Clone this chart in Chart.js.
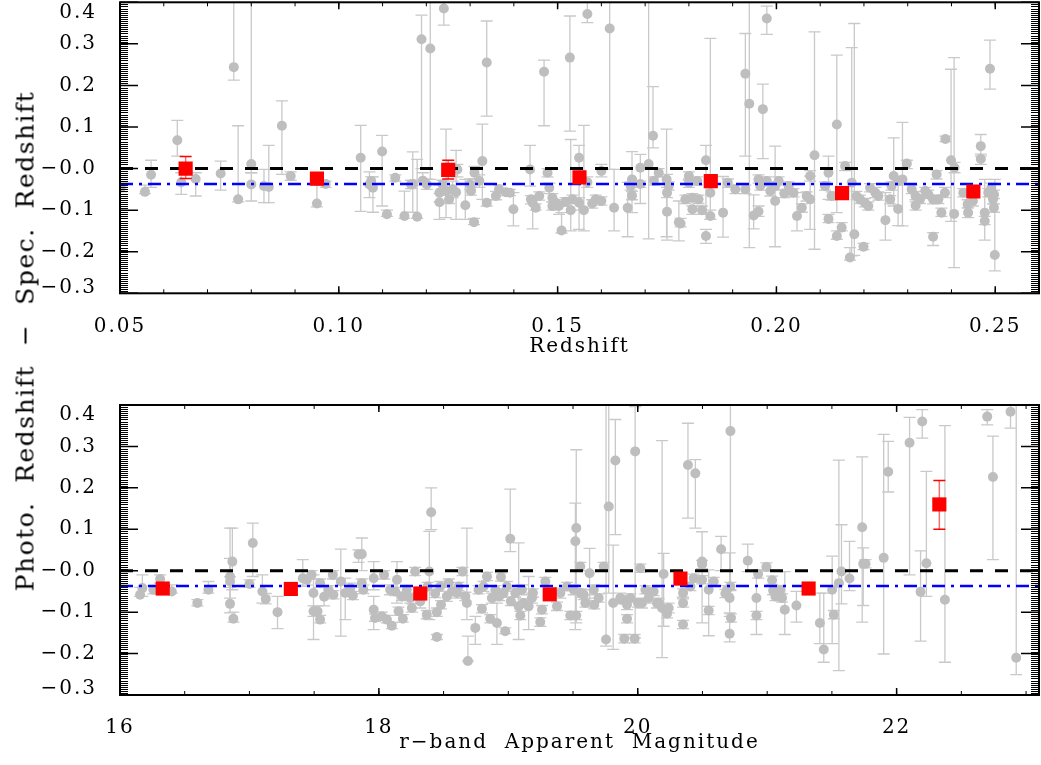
<!DOCTYPE html>
<html>
<head>
<meta charset="utf-8">
<script src="https://cdn.jsdelivr.net/npm/chart.js@4.4.1/dist/chart.umd.min.js"></script>
<style>
html,body{margin:0;padding:0;background:#fff;width:1041px;height:765px;overflow:hidden;}
#w1{position:absolute;left:0;top:0;width:1041px;height:380px;}
#w2{position:absolute;left:0;top:380px;width:1041px;height:385px;}
#ytitle{position:absolute;left:25px;top:341px;transform:translate(-50%,-50%) rotate(-90deg);
  font-family:'DejaVu Serif',serif;font-size:25px;letter-spacing:1.5px;white-space:pre;color:#000;}
</style>
</head>
<body>
<div id="w1"><canvas id="c1" width="1041" height="380" style="width:1041px;height:380px"></canvas></div>
<div id="w2"><canvas id="c2" width="1041" height="385" style="width:1041px;height:385px"></canvas></div>
<div id="ytitle">Photo.  Redshift  −  Spec.  Redshift</div>
<script>
// ================= DATA =================
// ---- top panel: individual galaxies vs redshift ----
const topX = [
 0.0502,0.0557,0.0571,0.0631,0.0640,0.0673,0.0730,0.0760,0.0770,0.0800,
 0.0800,0.0829,0.0840,0.0870,0.0890,0.0950,0.0970,0.1050,0.1070,0.1078,
 0.1099,0.1110,0.1129,0.1150,0.1169,0.1179,0.1189,0.1192,0.1201,0.1209,
 0.1230,0.1230,0.1240,0.1245,0.1260,0.1268,0.1271,0.1289,0.1300,0.1309,
 0.1310,0.1321,0.1328,0.1338,0.1338,0.1359,0.1382,0.1391,0.1399,0.1437,
 0.1439,0.1443,0.1450,0.1469,0.1477,0.1481,0.1488,0.1496,0.1503,0.1509,
 0.1518,0.1528,0.1530,0.1549,0.1549,0.1560,0.1568,0.1568,0.1579,0.1600,
 0.1600,0.1619,0.1629,0.1660,0.1670,0.1670,0.1689,0.1689,0.1708,0.1718,
 0.1720,0.1731,0.1749,0.1750,0.1750,0.1777,0.1800,0.1808,0.1808,0.1781,
 0.1830,0.1839,0.1839,0.1849,0.1849,0.1878,0.1889,0.1906,0.1929,0.1929,
 0.1938,0.1948,0.1959,0.1969,0.1959,0.1978,0.1978,0.1997,0.1997,0.2018,
 0.2039,0.2047,0.2058,0.2077,0.2077,0.2087,0.2119,0.2119,0.2138,0.2138,
 0.2149,0.2157,0.2168,0.2172,0.2178,0.2183,0.2199,0.2202,0.2210,0.2226,
 0.2249,0.2260,0.2268,0.2278,0.2288,0.2298,0.2318,0.2318,0.2340,0.2358,
 0.2366,0.2358,0.2377,0.2385,0.2386,0.2399,0.2406,0.2407,0.2437,0.2449,
 0.2467,0.2467,0.2476,0.2476,0.2488,0.2491,0.2495,0.2497,0.2499,0.2497,
 0.1800,0.1819,0.1822,0.1963,0.1986,0.2005,0.2028,0.2069,0.2111,0.2126,
 0.2191,0.2214,0.2233,0.2263,0.2279,0.2309,0.2328,0.2347,0.2370,0.2427,
 0.2438,0.2484,0.1074,0.1165,0.1237,0.1252,0.1302,0.1366,0.1458,0.1488,
 0.1534,0.1587,0.1667,0.1754,0.1792
];
const topY = [
 -0.046,-0.056,-0.015,0.068,-0.033,-0.025,-0.012,0.244,-0.074,0.011,
 -0.038,-0.042,-0.044,0.103,-0.018,-0.084,-0.037,0.026,-0.038,-0.046,
 0.041,-0.110,-0.022,-0.114,-0.037,-0.116,0.311,-0.029,-0.038,0.289,
 -0.058,-0.081,0.385,-0.054,-0.050,-0.057,-0.002,-0.088,-0.038,-0.129,
 -0.010,-0.030,0.018,0.255,-0.082,-0.066,-0.057,-0.058,-0.098,-0.002,
 -0.074,-0.082,-0.094,0.233,-0.010,-0.046,-0.070,-0.082,-0.090,-0.149,
 -0.080,0.267,-0.100,0.026,-0.082,-0.100,0.372,-0.033,-0.084,-0.006,
 -0.078,0.337,-0.094,-0.094,-0.026,-0.065,0.002,-0.037,0.011,0.079,
 -0.029,-0.010,-0.026,-0.058,-0.104,-0.129,-0.034,-0.070,-0.098,-0.132,
 -0.100,-0.162,0.020,-0.058,-0.114,-0.106,-0.034,-0.050,0.228,-0.050,
 0.156,-0.113,-0.103,0.143,-0.026,0.361,-0.030,-0.078,-0.042,-0.060,
 -0.058,-0.114,-0.094,-0.074,-0.018,0.032,-0.121,-0.010,0.106,-0.162,
 -0.142,0.006,-0.214,-0.034,-0.158,-0.066,-0.188,-0.082,-0.090,-0.058,
 -0.124,-0.074,-0.018,-0.097,-0.026,0.012,-0.066,-0.089,-0.054,-0.164,
 -0.014,-0.074,-0.106,-0.058,0.071,0.020,-0.109,0.002,-0.086,-0.078,
 0.054,0.023,-0.106,-0.126,0.240,-0.046,-0.074,-0.094,-0.208,-0.062,
 -0.018,-0.030,-0.074,-0.042,-0.054,-0.030,-0.042,-0.066,-0.042,-0.066,
 -0.074,-0.046,-0.066,-0.042,-0.030,-0.050,-0.074,-0.062,-0.074,-0.058,
 -0.106,-0.058,-0.030,-0.038,-0.038,-0.074,-0.054,-0.050,-0.066,-0.090,
 -0.074,-0.074,-0.042,-0.042,-0.074
];
const topLo = [
 -0.056,-0.060,-0.045,0.030,-0.062,-0.066,-0.052,0.213,-0.080,-0.010,
 -0.078,-0.082,-0.082,-0.014,-0.028,-0.092,-0.045,-0.103,-0.070,-0.105,
 -0.090,-0.115,-0.030,-0.120,-0.105,-0.120,0.000,-0.040,-0.050,-0.026,
 -0.080,-0.122,0.345,-0.118,-0.070,-0.122,-0.020,-0.122,-0.050,-0.135,
 -0.025,-0.045,-0.074,0.126,-0.090,-0.075,-0.065,-0.065,-0.138,-0.042,
 -0.085,-0.145,-0.100,0.103,-0.020,-0.060,-0.080,-0.090,-0.110,-0.155,
 -0.090,0.090,-0.150,-0.146,-0.100,-0.150,0.351,-0.045,-0.095,-0.020,
 -0.088,-0.002,-0.150,-0.164,-0.106,-0.075,-0.084,-0.045,-0.169,0.050,
 -0.040,-0.020,-0.164,-0.070,-0.172,-0.174,-0.045,-0.080,-0.110,-0.140,
 -0.110,-0.180,-0.106,-0.122,-0.122,-0.165,-0.045,-0.060,0.030,-0.060,
 -0.190,-0.145,-0.115,0.024,-0.035,0.323,-0.040,-0.188,-0.052,-0.070,
 -0.068,-0.150,-0.105,-0.146,-0.030,-0.194,-0.130,-0.074,-0.106,-0.170,
 -0.150,-0.005,-0.220,-0.210,-0.209,-0.075,-0.195,-0.092,-0.100,-0.070,
 -0.172,-0.085,-0.090,-0.137,-0.138,0.000,-0.075,-0.100,-0.065,-0.185,
 -0.025,-0.085,-0.115,-0.070,0.065,-0.127,-0.238,-0.010,-0.095,-0.090,
 0.030,0.010,-0.172,-0.135,0.191,-0.060,-0.085,-0.105,-0.246,-0.072,
 -0.028,-0.040,-0.084,-0.052,-0.066,-0.040,-0.052,-0.078,-0.052,-0.076,
 -0.084,-0.056,-0.076,-0.052,-0.040,-0.060,-0.084,-0.072,-0.084,-0.068,
 -0.118,-0.068,-0.040,-0.048,-0.048,-0.084,-0.064,-0.060,-0.076,-0.100,
 -0.084,-0.084,-0.052,-0.052,-0.084
];
const topHi = [
 -0.036,-0.040,0.020,0.116,-0.010,-0.010,0.018,0.45,0.103,0.45,
 -0.010,-0.002,0.056,0.163,-0.008,-0.040,-0.030,0.104,-0.008,-0.020,
 0.080,-0.100,-0.015,-0.054,0.040,0.022,0.369,-0.010,-0.025,0.45,
 -0.040,-0.060,0.45,0.095,-0.030,0.044,0.010,-0.026,-0.025,-0.120,
 0.005,-0.015,0.107,0.355,-0.075,-0.055,-0.050,-0.050,-0.058,0.056,
 -0.065,-0.070,-0.085,0.261,0.000,-0.035,-0.060,-0.075,-0.080,-0.106,
 -0.070,0.367,0.070,0.056,-0.070,0.104,0.45,-0.020,-0.075,0.010,
 -0.068,0.45,-0.002,-0.033,0.041,-0.055,0.034,-0.030,0.45,0.197,
 -0.020,0.000,0.095,-0.045,-0.014,-0.078,-0.025,-0.060,-0.090,-0.120,
 -0.090,-0.146,0.056,0.313,-0.100,-0.019,-0.025,-0.040,0.325,-0.040,
 0.45,-0.063,-0.090,0.203,-0.015,0.391,-0.020,0.054,-0.032,-0.050,
 -0.048,-0.058,-0.085,-0.018,-0.005,0.329,-0.110,0.030,0.273,-0.150,
 -0.130,0.015,-0.190,0.291,0.349,-0.055,-0.180,-0.072,-0.080,-0.045,
 -0.058,-0.065,0.074,-0.026,0.111,0.020,-0.055,-0.080,-0.045,-0.154,
 -0.005,-0.065,-0.095,-0.045,0.078,0.239,0.267,0.015,-0.075,-0.065,
 0.082,0.035,-0.026,-0.115,0.309,-0.035,-0.065,-0.085,-0.026,-0.052,
 -0.008,-0.020,-0.064,-0.032,-0.042,-0.020,-0.032,-0.056,-0.032,-0.056,
 -0.064,-0.036,-0.056,-0.032,-0.020,-0.040,-0.064,-0.052,-0.064,-0.048,
 -0.094,-0.048,-0.020,-0.028,-0.028,-0.064,-0.044,-0.040,-0.056,-0.080,
 -0.064,-0.064,-0.032,-0.032,-0.064
];
// ---- top panel: binned means (red squares) ----
const topBinX  = [0.065, 0.095, 0.125, 0.155, 0.185, 0.215, 0.245];
const topBinY  = [0.000, -0.024, -0.003, -0.021, -0.030, -0.059, -0.055];
const topBinLo = [-0.024, -0.030, -0.025, -0.028, -0.037, -0.066, -0.062];
const topBinHi = [0.029, -0.018, 0.020, -0.014, -0.023, -0.052, -0.048];

// ---- bottom panel: individual galaxies vs r-band magnitude ----
const botX = [
 16.155,16.173,16.310,16.400,16.598,16.683,16.850,16.850,16.850,16.868,
 16.876,17.000,17.026,17.100,17.126,17.217,17.412,17.443,17.480,17.495,
 17.495,17.526,17.546,17.577,17.644,17.706,17.740,17.799,17.843,17.868,
 17.868,17.880,17.960,17.960,17.970,18.023,18.040,18.062,18.100,18.126,
 18.140,18.152,18.178,18.185,18.216,18.255,18.280,18.320,18.370,18.390,
 18.404,18.376,18.435,18.448,18.448,18.480,18.540,18.564,18.616,18.646,
 18.668,18.680,18.688,18.745,18.770,18.796,18.835,18.860,18.900,18.912,
 18.930,18.943,18.963,18.976,19.015,19.020,19.054,19.080,19.093,19.118,
 19.157,19.190,19.247,19.260,19.286,19.376,19.453,19.479,19.518,19.525,
 19.525,19.556,19.561,19.595,19.628,19.664,19.698,19.737,19.755,19.776,
 19.827,19.810,19.878,19.896,19.917,19.943,19.980,19.976,20.002,20.020,
 20.059,20.123,20.162,20.188,20.200,20.226,20.350,20.350,20.350,20.388,
 20.445,20.432,20.497,20.497,20.497,20.548,20.548,20.644,20.677,20.710,
 20.716,20.716,20.720,20.710,20.850,20.917,20.917,20.930,20.994,21.038,
 21.046,21.077,21.115,21.136,21.226,21.407,21.437,21.502,21.515,21.554,
 21.574,21.636,21.734,21.742,21.760,21.900,21.935,22.100,22.185,22.198,
 22.230,22.373,22.700,22.744,22.880,22.924,
 17.780,18.087,18.242,18.474,18.525,18.603,18.809,18.873,18.989,19.105,
 19.183,19.402,19.505,19.582,19.660,19.865,19.917,20.033,20.084,20.149,
 20.239,16.258,17.546,17.611,17.649,20.407,20.587,20.690,21.064,21.100
];
const botY = [
 -0.058,-0.042,-0.020,-0.050,-0.078,-0.046,-0.014,-0.026,-0.080,0.022,
 -0.116,-0.032,0.067,-0.050,-0.068,-0.100,-0.018,-0.022,-0.010,-0.054,
 -0.098,-0.098,-0.118,-0.063,-0.010,-0.026,-0.054,-0.060,0.039,0.040,
 -0.030,-0.046,-0.018,-0.094,-0.114,-0.110,-0.010,-0.118,-0.133,-0.050,
 -0.022,-0.098,-0.062,-0.116,-0.046,-0.090,-0.002,-0.074,-0.106,-0.002,
 0.141,-0.038,-0.055,-0.160,-0.100,-0.082,-0.030,-0.050,-0.038,-0.002,
 -0.062,-0.078,-0.218,-0.138,-0.046,-0.092,-0.014,-0.116,-0.046,-0.126,
 -0.062,-0.015,-0.054,-0.146,0.077,-0.074,-0.054,-0.086,-0.108,-0.078,
 -0.086,-0.054,-0.124,-0.094,-0.026,-0.086,-0.038,-0.108,0.071,0.103,
 -0.108,0.010,-0.054,-0.078,-0.006,-0.082,-0.066,0.010,-0.166,0.155,
 0.266,-0.078,-0.070,-0.164,-0.116,-0.066,0.288,-0.164,-0.078,0.006,
 -0.046,-0.050,-0.078,-0.090,-0.008,-0.104,-0.054,-0.078,-0.130,0.255,
 0.235,-0.018,0.022,0.015,-0.022,-0.046,-0.096,0.052,-0.055,-0.066,
 0.337,-0.038,-0.114,-0.152,0.024,-0.066,-0.108,-0.008,0.009,-0.023,
 -0.048,-0.054,-0.066,-0.094,-0.084,-0.126,-0.190,-0.046,-0.106,-0.030,
 -0.002,-0.019,0.105,0.017,0.017,0.031,0.239,0.309,-0.051,0.360,
 0.018,-0.070,0.372,0.226,0.384,-0.210,
 -0.042,-0.046,-0.066,-0.038,-0.062,-0.054,-0.038,-0.066,-0.038,-0.046,
 -0.066,-0.054,-0.046,-0.058,-0.046,-0.066,-0.082,-0.078,-0.066,-0.078,
 -0.090,-0.046,-0.030,-0.046,-0.058,-0.038,-0.026,-0.046,-0.062,-0.046
];
const botLo = [
 -0.062,-0.062,-0.030,-0.054,-0.085,-0.054,-0.066,-0.040,-0.102,-0.046,
 -0.124,-0.040,-0.014,-0.078,-0.080,-0.140,-0.038,-0.035,-0.020,-0.166,
 -0.110,-0.110,-0.126,-0.085,-0.020,-0.158,-0.118,-0.070,0.020,0.000,
 -0.040,-0.055,-0.046,-0.142,-0.122,-0.118,-0.020,-0.126,-0.140,-0.060,
 -0.078,-0.108,-0.072,-0.124,-0.056,-0.100,-0.012,-0.090,-0.116,-0.118,
 0.099,-0.048,-0.065,-0.166,-0.110,-0.092,-0.040,-0.060,-0.048,-0.012,
 -0.072,-0.118,-0.218,-0.178,-0.056,-0.102,-0.024,-0.126,-0.056,-0.178,
 -0.072,-0.025,-0.064,-0.152,0.046,-0.084,-0.064,-0.166,-0.118,-0.088,
 -0.142,-0.064,-0.134,-0.104,-0.036,-0.096,-0.048,-0.118,-0.142,-0.126,
 -0.118,0.000,-0.064,-0.088,-0.066,-0.092,-0.076,0.000,-0.182,-0.054,
 0.087,-0.190,-0.080,-0.174,-0.126,-0.076,-0.162,-0.174,-0.088,-0.004,
 -0.056,-0.060,-0.088,-0.210,-0.134,-0.114,-0.064,-0.088,-0.140,0.127,
 0.103,-0.028,-0.126,0.005,-0.032,-0.157,-0.106,0.000,-0.065,-0.110,
 -0.046,-0.048,-0.124,-0.172,-0.002,-0.154,-0.118,-0.018,-0.001,-0.033,
 -0.058,-0.064,-0.076,-0.154,-0.124,-0.176,-0.221,-0.176,-0.116,-0.241,
 -0.080,-0.048,-0.124,-0.084,0.007,-0.201,0.190,-0.010,-0.170,0.320,
 -0.062,-0.221,0.352,0.027,0.344,-0.251,
 -0.054,-0.058,-0.078,-0.050,-0.074,-0.066,-0.050,-0.078,-0.050,-0.058,
 -0.078,-0.066,-0.058,-0.070,-0.058,-0.078,-0.094,-0.090,-0.078,-0.090,
 -0.102,-0.056,-0.040,-0.056,-0.068,-0.048,-0.036,-0.056,-0.072,-0.056
];
const botHi = [
 -0.040,-0.010,-0.010,-0.034,-0.070,-0.026,0.030,-0.015,0.103,0.103,
 -0.100,-0.022,0.115,-0.010,-0.055,-0.062,0.027,-0.010,0.000,-0.010,
 -0.085,-0.085,-0.108,-0.040,0.000,0.052,-0.018,-0.050,0.050,0.079,
 -0.020,-0.035,0.022,-0.062,-0.105,-0.100,0.000,-0.108,-0.125,-0.040,
 0.022,-0.088,-0.052,-0.106,-0.036,-0.080,0.008,-0.060,-0.096,0.095,
 0.200,-0.028,-0.045,-0.154,-0.090,-0.072,-0.020,-0.040,-0.028,0.008,
 -0.052,0.103,-0.158,-0.110,-0.036,-0.082,-0.004,-0.106,-0.036,-0.078,
 -0.052,-0.005,-0.044,-0.138,0.197,-0.064,-0.044,0.067,-0.098,-0.068,
 -0.014,-0.044,-0.114,-0.084,-0.016,-0.076,-0.028,-0.098,0.163,0.292,
 -0.098,0.020,-0.044,-0.068,0.054,-0.072,-0.056,0.020,0.45,0.45,
 0.365,0.062,-0.060,-0.154,-0.106,-0.056,0.396,-0.154,-0.068,0.016,
 -0.036,-0.040,-0.068,0.314,0.042,-0.094,-0.044,-0.068,-0.120,0.356,
 0.268,-0.008,0.094,0.025,-0.012,0.002,-0.086,0.083,-0.045,0.043,
 0.45,-0.028,-0.104,-0.102,0.064,-0.002,-0.098,0.002,0.019,-0.013,
 -0.038,-0.044,-0.056,-0.002,-0.050,-0.054,-0.054,0.035,-0.096,0.267,
 0.111,0.071,0.275,0.055,0.027,0.329,0.312,0.370,0.048,0.389,
 0.240,0.350,0.389,0.325,0.401,0.45,
 -0.030,-0.034,-0.054,-0.026,-0.050,-0.042,-0.026,-0.054,-0.026,-0.034,
 -0.054,-0.042,-0.034,-0.046,-0.034,-0.054,-0.070,-0.066,-0.054,-0.066,
 -0.078,-0.036,-0.020,-0.036,-0.048,-0.028,-0.016,-0.036,-0.052,-0.036
];
// ---- bottom panel: binned means (red squares) ----
const botBinX  = [16.33, 17.32, 18.32, 19.32, 20.33, 21.32, 22.33];
const botBinY  = [-0.043, -0.044, -0.055, -0.057, -0.019, -0.043, 0.160];
const botBinLo = [-0.050, -0.054, -0.062, -0.064, -0.027, -0.050, 0.100];
const botBinHi = [-0.036, -0.034, -0.048, -0.050, -0.011, -0.036, 0.218];

// ---- axes / reference lines ----
const topXRange = [0.05, 0.26];
const botXRange = [16, 23.1];
const yRange = [-0.3, 0.4];
const topXTicks = [0.05, 0.10, 0.15, 0.20, 0.25];
const topXTickLabels = ['0.05', '0.10', '0.15', '0.20', '0.25'];
const botXTicks = [16, 18, 20, 22];
const botXTickLabels = ['16', '18', '20', '22'];
const yTicks = [-0.3, -0.2, -0.1, 0.0, 0.1, 0.2, 0.3, 0.4];
const yTickLabels = ['−0.3', '−0.2', '−0.1', '−0.0', '0.1', '0.2', '0.3', '0.4'];
const zeroOffset = 0.0;
const meanOffset = -0.037;

// ================= RENDERING =================
const FONT = 'DejaVu Serif';
Chart.defaults.font.family = FONT;
Chart.defaults.color = '#000';

const errorBarPlugin = {
  id: 'errbars',
  beforeDatasetDraw(chart, args) {
    const ds = chart.data.datasets[args.index];
    if (!ds.errLo) return;
    const {ctx, chartArea: a} = chart;
    const xs = chart.scales.x, ys = chart.scales.y;
    ctx.save();
    ctx.beginPath();
    ctx.rect(a.left, a.top, a.right - a.left, a.bottom - a.top);
    ctx.clip();
    ctx.lineWidth = ds.errWidth;
    for (let i = 0; i < ds.data.length; i++) {
      const px = xs.getPixelForValue(ds.data[i].x);
      const p1 = ys.getPixelForValue(ds.errLo[i]);
      const p2 = ys.getPixelForValue(ds.errHi[i]);
      ctx.strokeStyle = ds.errColor;
      ctx.beginPath(); ctx.moveTo(px, p1); ctx.lineTo(px, p2); ctx.stroke();
      ctx.strokeStyle = ds.capColor;
      ctx.beginPath();
      ctx.moveTo(px - ds.capHalf, p1); ctx.lineTo(px + ds.capHalf, p1);
      ctx.moveTo(px - ds.capHalf, p2); ctx.lineTo(px + ds.capHalf, p2);
      ctx.stroke();
    }
    ctx.restore();
  }
};

const framePlugin = {
  id: 'frame',
  beforeDraw(chart) { chart.ctx.letterSpacing = '2px'; },
  afterDraw(chart, args, opts) {
    const {ctx, chartArea: a} = chart;
    const xs = chart.scales.x, ys = chart.scales.y;
    ctx.save();
    ctx.letterSpacing = '0px';
    ctx.strokeStyle = '#000';
    // minor ticks
    ctx.lineWidth = 1;
    ctx.beginPath();
    const xm = opts.xMinor;
    for (let k = Math.ceil(xs.min / xm - 1e-6); k * xm <= xs.max + 1e-9; k++) {
      const p = xs.getPixelForValue(k * xm);
      ctx.moveTo(p, a.bottom); ctx.lineTo(p, a.bottom - opts.xMinorLen);
      ctx.moveTo(p, a.top); ctx.lineTo(p, a.top + opts.xMinorLen);
    }
    const ym = opts.yMinor;
    for (let k = Math.ceil(ys.min / ym - 1e-6); k * ym <= ys.max + 1e-9; k++) {
      const p = Math.round(ys.getPixelForValue(k * ym)) + 0.5;
      ctx.moveTo(a.left, p); ctx.lineTo(a.left + opts.yMinorLen, p);
      ctx.moveTo(a.right, p); ctx.lineTo(a.right - opts.yMinorLen, p);
    }
    ctx.stroke();
    // major ticks
    ctx.lineWidth = 1.5;
    ctx.beginPath();
    xs.ticks.forEach(t => {
      const p = xs.getPixelForValue(t.value);
      ctx.moveTo(p, a.bottom); ctx.lineTo(p, a.bottom - opts.xMajorLen);
      ctx.moveTo(p, a.top); ctx.lineTo(p, a.top + opts.xMajorLen);
    });
    ys.ticks.forEach(t => {
      const p = ys.getPixelForValue(t.value);
      ctx.moveTo(a.left, p); ctx.lineTo(a.left + opts.yMajorLen, p);
      ctx.moveTo(a.right, p); ctx.lineTo(a.right - opts.yMajorLen, p);
    });
    ctx.stroke();
    ctx.lineWidth = 2;
    ctx.strokeRect(a.left, a.top, a.right - a.left, a.bottom - a.top);
    ctx.restore();
  }
};

function labelFor(vals, labels, v) {
  const i = vals.findIndex(t => Math.abs(t - v) < 1e-9);
  return i >= 0 ? labels[i] : '';
}

function makePanel(canvasId, cfg) {
  const pts = (xs, ys) => xs.map((x, i) => ({x: x, y: ys[i]}));
  const lineData = (y) => [{x: cfg.xRange[0], y: y}, {x: cfg.xRange[1], y: y}];
  return new Chart(document.getElementById(canvasId), {
    type: 'scatter',
    data: {
      datasets: [
        { // binned means
          data: pts(cfg.binX, cfg.binY), order: 0,
          pointStyle: 'rect', pointRadius: 10, pointHoverRadius: 10,
          backgroundColor: '#ff0000', borderWidth: 0,
          errLo: cfg.binLo, errHi: cfg.binHi, errColor: '#f07070', capColor: '#ff0000',
          errWidth: 1.5, capHalf: 6
        },
        { // zero line
          type: 'line', data: lineData(zeroOffset), order: 1, showLine: true,
          borderColor: '#000', borderWidth: 3, borderDash: [13, 12],
          pointRadius: 0, fill: false
        },
        { // mean offset
          type: 'line', data: lineData(meanOffset), order: 1, showLine: true,
          borderColor: '#0000ff', borderWidth: 2.5, borderDash: [13, 6, 3, 6],
          pointRadius: 0, fill: false
        },
        { // individual galaxies
          data: pts(cfg.x, cfg.y), order: 2,
          pointStyle: 'circle', pointRadius: 5, pointHoverRadius: 5,
          backgroundColor: '#bebebe', borderWidth: 0,
          errLo: cfg.lo, errHi: cfg.hi, errColor: '#c9c9c9', capColor: '#c9c9c9',
          errWidth: 1.3, capHalf: 6
        }
      ]
    },
    options: {
      responsive: false,
      animation: false,
      events: [],
      layout: { autoPadding: false, padding: { top: cfg.padTop, right: 2, left: 0, bottom: 0 } },
      plugins: {
        legend: { display: false },
        tooltip: { enabled: false },
        frame: { xMinor: cfg.xMinor, yMinor: 0.005, xMajorLen: 7, xMinorLen: 4, yMajorLen: 18, yMinorLen: 8 }
      },
      scales: {
        x: {
          type: 'linear', position: 'bottom',
          min: cfg.xRange[0], max: cfg.xRange[1],
          grid: { display: false }, border: { display: false },
          afterBuildTicks: (s) => { s.ticks = cfg.xTicks.map(v => ({value: v})); },
          afterFit: (s) => { s.height = cfg.xAxisH; s.paddingLeft = 0; s.paddingRight = 0; },
          ticks: {
            autoSkip: false, maxRotation: 0, padding: 13,
            font: { family: FONT, size: 20 }, color: '#000',
            callback: (v) => labelFor(cfg.xTicks, cfg.xTickLabels, v)
          },
          title: {
            display: true, text: cfg.xTitle, color: '#000',
            font: { family: FONT, size: 20 }, padding: { top: 0, bottom: cfg.titlePad }
          }
        },
        y: {
          type: 'linear', position: 'left',
          min: yRange[0], max: yRange[1],
          grid: { display: false }, border: { display: false },
          afterBuildTicks: (s) => { s.ticks = yTicks.map(v => ({value: v})); },
          afterFit: (s) => { s.width = 120; s.paddingTop = 0; s.paddingBottom = 0; },
          ticks: {
            autoSkip: false, padding: 15, color: '#000',
            font: (c) => {
              const v = c.tick ? c.tick.value : 0;
              let lh = 1.2;
              if (Math.abs(v - yRange[1]) < 1e-9) lh = '20px';
              else if (Math.abs(v - yRange[0]) < 1e-9) lh = '12px';
              return { family: FONT, size: 20, lineHeight: lh };
            },
            callback: (v) => {
              const s = labelFor(yTicks, yTickLabels, v);
              if (Math.abs(v - yRange[1]) < 1e-9) return ['', s];
              if (Math.abs(v - yRange[0]) < 1e-9) return [s, ''];
              return s;
            }
          }
        }
      }
    },
    plugins: [errorBarPlugin, framePlugin]
  });
}

makePanel('c1', {
  x: topX, y: topY, lo: topLo, hi: topHi,
  binX: topBinX, binY: topBinY, binLo: topBinLo, binHi: topBinHi,
  xRange: topXRange, xTicks: topXTicks, xTickLabels: topXTickLabels,
  xTitle: 'Redshift', xMinor: 0.01,
  padTop: 2.3, xAxisH: 86.7, titlePad: 21.5
});
makePanel('c2', {
  x: botX, y: botY, lo: botLo, hi: botHi,
  binX: botBinX, binY: botBinY, binLo: botBinLo, binHi: botBinHi,
  xRange: botXRange, xTicks: botXTicks, xTickLabels: botXTickLabels,
  xTitle: 'r−band  Apparent  Magnitude', xMinor: 0.5,
  padTop: 25, xAxisH: 70, titlePad: 10
});
</script>
</body>
</html>
